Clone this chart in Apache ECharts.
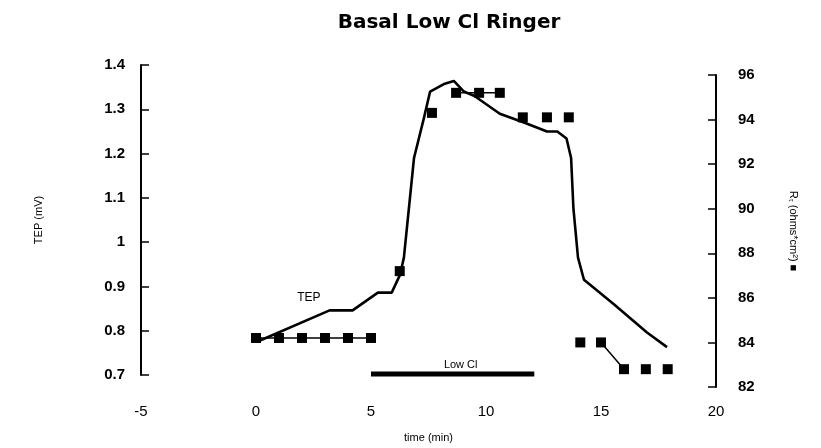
<!DOCTYPE html>
<html>
<head>
<meta charset="utf-8">
<script src="https://cdn.jsdelivr.net/npm/echarts@6/dist/echarts.min.js"></script>
<style>
  html, body { margin: 0; padding: 0; background: #fff; }
  #chart { width: 821px; height: 448px; }
</style>
</head>
<body>
<div id="chart"></div>
<script>
// TEP trace (left axis, mV)
var tepTime = [0.05, 3.2, 4.2, 5.3, 5.9, 6.26, 6.43, 6.87, 7.3, 7.57, 8.17, 8.6, 9.04, 9.5, 10.6, 11.65, 12.65, 13.1, 13.5, 13.7, 13.8, 14.0, 14.26, 15.56, 17.0, 17.87];
var tepValue = [0.775, 0.846, 0.846, 0.886, 0.886, 0.926, 0.965, 1.19, 1.28, 1.34, 1.357, 1.364, 1.34, 1.33, 1.29, 1.27, 1.25, 1.25, 1.234, 1.19, 1.077, 0.965, 0.915, 0.86, 0.796, 0.763];

// Rt markers (right axis, ohms*cm2)
var rTime = [0, 1, 2, 3, 4, 5, 6.25, 7.65, 8.7, 9.7, 10.6, 11.6, 12.65, 13.6, 14.1, 15, 16, 16.95, 17.9];
var rValue = [84.2, 84.2, 84.2, 84.2, 84.2, 84.2, 87.2, 94.3, 95.2, 95.2, 95.2, 94.1, 94.1, 94.1, 84.0, 84.0, 82.8, 82.8, 82.8];
// which markers are joined by a thin line (index ranges)
var rLinks = [[0, 5], [8, 10], [15, 16]];

// low Cl period (min)
var lowClStart = 5;
var lowClEnd = 12.1;

var xTicks = [-5, 0, 5, 10, 15, 20];

var chart = echarts.init(document.getElementById('chart'));

var tepData = [];
for (var i = 0; i < tepTime.length; i++) {
	tepData.push([tepTime[i], tepValue[i]]);
}
var rData = [];
for (var i = 0; i < rTime.length; i++) {
	rData.push([rTime[i], rValue[i]]);
}
var linkData = [];
for (var g = 0; g < rLinks.length; g++) {
	for (var k = rLinks[g][0]; k <= rLinks[g][1]; k++) {
		linkData.push([rTime[k], rValue[k]]);
	}
	linkData.push(['-', '-']);
}

var font = '"Liberation Sans", Arial, sans-serif';

// the scanned figure has the right axis sitting a bit lower than the left one,
// so each y axis gets its own grid sharing the same time range
var option = {
	animation: false,
	backgroundColor: '#fff',
	title: {
		text: 'Basal Low Cl Ringer',
		left: 444,
		top: 8,
		textAlign: 'center',
		textStyle: { fontFamily: '"DejaVu Sans", sans-serif', fontSize: 20, fontWeight: 'bold', color: '#000' }
	},
	grid: [
		{ left: 141, right: 105, top: 65, bottom: 70 },
		{ left: 141, right: 105, top: 75, bottom: 61 }
	],
	xAxis: [{
		type: 'value',
		gridIndex: 0,
		min: xTicks[0],
		max: xTicks[xTicks.length - 1],
		interval: 5,
		name: 'time (min)',
		nameLocation: 'middle',
		nameGap: 57,
		nameTextStyle: { fontFamily: font, fontSize: 11, color: '#000' },
		axisLine: { show: false },
		axisTick: { show: false },
		splitLine: { show: false },
		axisLabel: { margin: 29, fontFamily: font, fontSize: 15, color: '#000' }
	}, {
		type: 'value',
		gridIndex: 1,
		min: xTicks[0],
		max: xTicks[xTicks.length - 1],
		interval: 5,
		show: false
	}],
	yAxis: [{
		type: 'value',
		gridIndex: 0,
		min: 0.7,
		max: 1.4,
		interval: 0.1,
		position: 'left',
		name: 'TEP (mV)',
		nameLocation: 'middle',
		nameGap: 97,
		nameTextStyle: { fontFamily: font, fontSize: 11, color: '#000' },
		axisLine: { show: true, onZero: false, lineStyle: { color: '#000', width: 2 } },
		axisTick: { show: true, inside: true, length: 8, lineStyle: { color: '#000', width: 1.5 } },
		splitLine: { show: false },
		axisLabel: { margin: 16, fontFamily: font, fontSize: 15, fontWeight: 'bold', color: '#000' }
	}, {
		type: 'value',
		gridIndex: 1,
		min: 82,
		max: 96,
		interval: 2,
		position: 'right',
		name: 'Rₜ (ohms*cm²) ■',
		nameLocation: 'middle',
		nameRotate: -90,
		nameGap: 72,
		nameTextStyle: { fontFamily: font, fontSize: 11, color: '#000' },
		axisLine: { show: true, onZero: false, lineStyle: { color: '#000', width: 2 } },
		axisTick: { show: true, inside: true, length: 8, lineStyle: { color: '#000', width: 1.5 } },
		splitLine: { show: false },
		axisLabel: { margin: 22, fontFamily: font, fontSize: 15, fontWeight: 'bold', color: '#000' }
	}],
	series: [{
		name: 'TEP',
		type: 'line',
		xAxisIndex: 0,
		yAxisIndex: 0,
		data: tepData,
		showSymbol: false,
		lineStyle: { color: '#000', width: 2.6 },
		markPoint: {
			symbol: 'circle',
			symbolSize: 1,
			itemStyle: { color: 'rgba(0,0,0,0)' },
			data: [{ coord: [2.3, 0.875], value: 'TEP' }],
			label: { show: true, position: 'inside', formatter: 'TEP', fontFamily: font, fontSize: 12, color: '#000' }
		}
	}, {
		name: 'Low Cl',
		type: 'line',
		xAxisIndex: 0,
		yAxisIndex: 0,
		data: [[lowClStart, 0.702], [lowClEnd, 0.702]],
		showSymbol: false,
		lineStyle: { color: '#000', width: 5 },
		markPoint: {
			symbol: 'circle',
			symbolSize: 1,
			itemStyle: { color: 'rgba(0,0,0,0)' },
			data: [{ coord: [8.9, 0.722], value: 'Low Cl' }],
			label: { show: true, position: 'inside', formatter: 'Low Cl', fontFamily: font, fontSize: 11, color: '#000' }
		}
	}, {
		name: 'Rt link',
		type: 'line',
		xAxisIndex: 1,
		yAxisIndex: 1,
		data: linkData,
		showSymbol: false,
		connectNulls: false,
		lineStyle: { color: '#000', width: 1.5 }
	}, {
		name: 'Rt',
		type: 'scatter',
		xAxisIndex: 1,
		yAxisIndex: 1,
		data: rData,
		symbol: 'rect',
		symbolSize: 10,
		itemStyle: { color: '#000', opacity: 1 }
	}]
};

chart.setOption(option);
</script>
</body>
</html>
